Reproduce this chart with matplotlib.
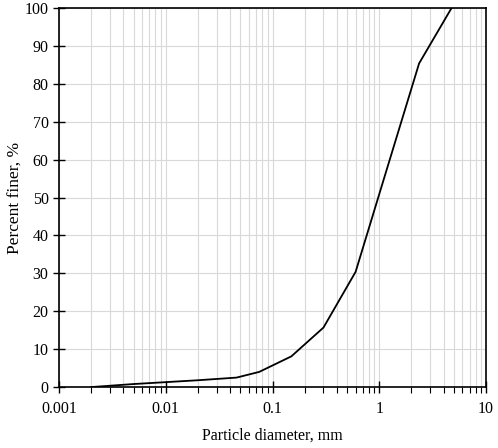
import matplotlib
matplotlib.use("Agg")
import matplotlib.pyplot as plt
from matplotlib.ticker import LogLocator, NullFormatter

diameter_mm = [0.002, 0.005, 0.01, 0.02, 0.046, 0.075, 0.15, 0.3, 0.6, 1.18, 2.36, 4.75]
percent_finer = [0.0, 0.8, 1.3, 1.8, 2.5, 4.0, 8.1, 15.7, 30.4, 57.6, 85.4, 100.0]
x_ticks = [0.001, 0.01, 0.1, 1, 10]
x_tick_labels = ["0.001", "0.01", "0.1", "1", "10"]
y_ticks = [0, 10, 20, 30, 40, 50, 60, 70, 80, 90, 100]

plt.rcParams['font.family'] = ['Liberation Serif', 'DejaVu Serif']

fig = plt.figure(figsize=(4.98, 4.48), dpi=100)
ax = fig.add_axes([0.1185, 0.136, 0.8575, 0.846])

ax.plot(diameter_mm, percent_finer, color='black', linewidth=1.3, zorder=3)

ax.set_xscale('log')
ax.set_xlim(0.001, 10)
ax.set_ylim(0, 100)
ax.set_xticks(x_ticks)
ax.set_xticklabels(x_tick_labels)
ax.xaxis.set_minor_locator(LogLocator(base=10, subs=range(2, 10), numticks=20))
ax.xaxis.set_minor_formatter(NullFormatter())
ax.set_yticks(y_ticks)

ax.grid(True, which='major', axis='both', color='#d9d9d9', linewidth=0.8, zorder=0)
ax.grid(True, which='minor', axis='x', color='#d9d9d9', linewidth=0.8, zorder=0)
ax.set_axisbelow(True)

ax.tick_params(axis='x', which='major', direction='inout', length=8, width=1.0, labelsize=11.5, pad=6)
ax.tick_params(axis='x', which='minor', direction='out', length=4, width=0.8)
ax.tick_params(axis='y', which='major', direction='inout', length=8, width=1.0, labelsize=11.5)

for s in ax.spines.values():
    s.set_linewidth(1.2)
    s.set_color('black')

ax.set_xlabel('Particle diameter, mm', fontsize=11.5, labelpad=8)
ax.set_ylabel('Percent finer, %', fontsize=12.5, labelpad=1)

fig.savefig('out.png', dpi=100)
